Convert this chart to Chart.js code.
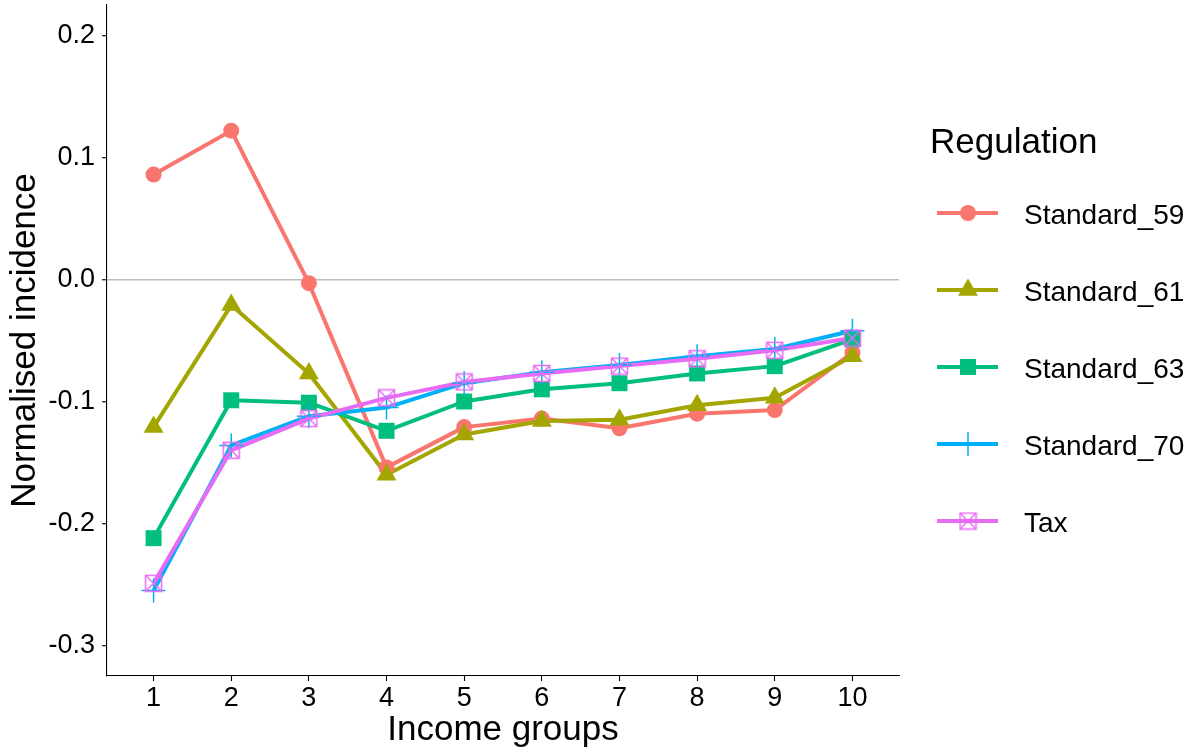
<!DOCTYPE html>
<html><head><meta charset="utf-8">
<script src="https://cdn.jsdelivr.net/npm/chart.js@4/dist/chart.umd.min.js"></script>
<style>html,body{margin:0;padding:0;background:#fff;} #wrap{width:1198px;height:754px;position:relative;}</style>
</head><body><div id="wrap"><canvas id="c" width="1198" height="754"></canvas></div>
<script>
// ---- data ----
const incomeGroups = [1, 2, 3, 4, 5, 6, 7, 8, 9, 10];
const yTicks = [-0.3, -0.2, -0.1, 0.0, 0.1, 0.2];
const seriesNames = ['Standard_59', 'Standard_61', 'Standard_63', 'Standard_70', 'Tax'];
const standard59 = [0.086, 0.122, -0.003, -0.154, -0.121, -0.114, -0.122, -0.110, -0.107, -0.060];
const standard61 = [-0.121, -0.021, -0.077, -0.160, -0.127, -0.116, -0.115, -0.103, -0.097, -0.063];
const standard63 = [-0.212, -0.099, -0.101, -0.124, -0.100, -0.090, -0.085, -0.077, -0.071, -0.049];
const standard70 = [-0.255, -0.136, -0.112, -0.105, -0.085, -0.076, -0.070, -0.063, -0.057, -0.042];
const tax = [-0.249, -0.140, -0.114, -0.097, -0.084, -0.077, -0.071, -0.065, -0.058, -0.048];

// ---- style ----
const FAMILY = '"Liberation Sans", Arial, Helvetica, sans-serif';
const seriesValues = [standard59, standard61, standard63, standard70, tax];
const colors = ['#F8766D', '#A3A500', '#00BF7D', '#00B0F6', '#E76BF3'];

function makeBox(color, size, lw) {
  const c = document.createElement('canvas');
  const s = Math.ceil(size + lw * 2);
  c.width = s; c.height = s;
  const g = c.getContext('2d');
  g.strokeStyle = color; g.lineWidth = lw;
  const o = (s - size) / 2;
  g.strokeRect(o, o, size, size);
  g.beginPath();
  g.moveTo(o, o); g.lineTo(o + size, o + size);
  g.moveTo(o + size, o); g.lineTo(o, o + size);
  g.stroke();
  return c;
}
const boxImg = makeBox(colors[4], 16, 1.5);

const pointSpecs = [
  {style: 'circle', radius: 8, bw: 0},
  {style: 'triangle', radius: 11.5, bw: 0},
  {style: 'rect', radius: 11.3, bw: 0},
  {style: 'cross', radius: 12, bw: 1.5},
  {style: boxImg, radius: 8, bw: 0}
];

const datasets = [];
seriesValues.forEach((vals, i) => {
  const pts = vals.map((v, j) => ({x: incomeGroups[j], y: v}));
  datasets.push({
    label: seriesNames[i] + ' line', data: pts,
    borderColor: colors[i], borderWidth: 4, borderJoinStyle: 'round', borderCapStyle: 'butt',
    pointRadius: 0, fill: false, tension: 0, order: 20 - i
  });
  datasets.push({
    label: seriesNames[i], data: pts, showLine: false,
    pointStyle: pointSpecs[i].style, pointRadius: pointSpecs[i].radius,
    pointBackgroundColor: colors[i], pointBorderColor: colors[i],
    pointBorderWidth: pointSpecs[i].bw, order: 10 - i
  });
});

function drawMarker(ctx, i, x, y) {
  const col = colors[i];
  ctx.save();
  ctx.fillStyle = col; ctx.strokeStyle = col;
  if (i === 0) { ctx.beginPath(); ctx.arc(x, y, 8, 0, Math.PI * 2); ctx.fill(); }
  else if (i === 1) {
    const r = 11.5; let a = 0;
    ctx.beginPath();
    ctx.moveTo(x + Math.sin(a) * r, y - Math.cos(a) * r); a += 2 * Math.PI / 3;
    ctx.lineTo(x + Math.sin(a) * r, y - Math.cos(a) * r); a += 2 * Math.PI / 3;
    ctx.lineTo(x + Math.sin(a) * r, y - Math.cos(a) * r);
    ctx.closePath(); ctx.fill();
  } else if (i === 2) { ctx.fillRect(x - 8, y - 8, 16, 16); }
  else if (i === 3) {
    ctx.lineWidth = 1.5; ctx.beginPath();
    ctx.moveTo(x - 12, y); ctx.lineTo(x + 12, y); ctx.moveTo(x, y - 12); ctx.lineTo(x, y + 12); ctx.stroke();
  } else { ctx.drawImage(boxImg, x - boxImg.width / 2, y - boxImg.height / 2); }
  ctx.restore();
}

const legendPlugin = {
  id: 'ggLegend',
  afterDraw(chart) {
    const ctx = chart.ctx;
    const x0 = chart.chartArea.right + 31;
    ctx.save();
    ctx.fillStyle = '#000';
    ctx.textAlign = 'left';
    ctx.textBaseline = 'alphabetic';
    ctx.font = '35px ' + FAMILY;
    ctx.fillText('Regulation', x0, 153);
    seriesNames.forEach((name, i) => {
      const cy = 213 + i * 77;
      ctx.strokeStyle = colors[i]; ctx.lineWidth = 4;
      ctx.beginPath(); ctx.moveTo(x0 + 7, cy); ctx.lineTo(x0 + 68, cy); ctx.stroke();
      drawMarker(ctx, i, x0 + 38, cy);
      ctx.fillStyle = '#000';
      ctx.font = '28px ' + FAMILY;
      ctx.fillText(name, x0 + 94, cy + 10.5);
    });
    ctx.restore();
  }
};

new Chart(document.getElementById('c'), {
  type: 'line',
  data: {datasets},
  options: {
    responsive: false, animation: false, devicePixelRatio: 1, events: [],
    layout: {padding: {left: 0, right: 299, top: 5, bottom: 0}, autoPadding: false},
    plugins: {legend: {display: false}, tooltip: {enabled: false}},
    scales: {
      x: {
        type: 'linear', min: 0.4, max: 10.6,
        afterBuildTicks: s => { s.ticks = incomeGroups.map(v => ({value: v})); },
        afterFit: s => { s.height = 78; s.paddingLeft = 0; s.paddingRight = 0; },
        ticks: {font: {size: 27, family: FAMILY}, color: '#000', padding: 1, autoSkip: false, maxRotation: 0,
                callback: v => String(v)},
        grid: {color: 'rgba(0,0,0,0)', tickColor: '#000', tickLength: 5, tickWidth: 1.1, drawTicks: true},
        border: {display: true, color: '#000', width: 1.1},
        title: {display: true, text: 'Income groups', color: '#000',
                font: {size: 35, family: FAMILY}, padding: {top: 0, bottom: 3}}
      },
      y: {
        type: 'linear', min: -0.325, max: 0.225,
        afterBuildTicks: s => { s.ticks = yTicks.map(v => ({value: v})); },
        afterFit: s => { s.width = 107; s.paddingTop = 0; s.paddingBottom = 0; },
        ticks: {font: {size: 27, family: FAMILY}, color: '#000', padding: 7,
                callback: v => Number(v).toFixed(1)},
        grid: {color: c => (c.tick && Math.abs(c.tick.value) < 1e-9) ? '#bdbdbd' : 'rgba(0,0,0,0)',
               lineWidth: 1.5, tickColor: '#000', tickLength: 5, tickWidth: 1.1, drawTicks: true},
        border: {display: true, color: '#000', width: 1.1},
        title: {display: true, text: 'Normalised incidence', color: '#000',
                font: {size: 35, family: FAMILY}, padding: {top: 4, bottom: 0}}
      }
    }
  },
  plugins: [legendPlugin]
});
</script>
</body></html>
